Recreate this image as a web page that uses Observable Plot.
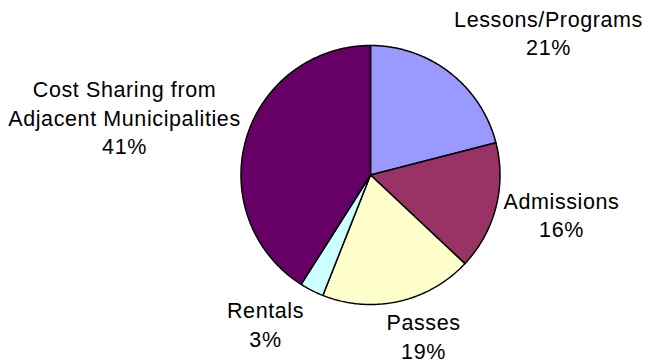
<!DOCTYPE html>
<html>
<head>
<meta charset="utf-8">
<script src="https://cdn.jsdelivr.net/npm/d3@7"></script>
<script src="https://cdn.jsdelivr.net/npm/@observablehq/plot@0.6"></script>
<style>
  html, body { margin: 0; padding: 0; background: #fff; }
  #chart svg { display: block; }
  #chart svg text { letter-spacing: 0.6px; }
</style>
</head>
<body>
<div id="chart"></div>
<script>
// Data
const categories = ["Lessons/Programs", "Admissions", "Passes", "Rentals", "Cost Sharing from\nAdjacent Municipalities"];
const shares = [21, 16, 19, 3, 41];
const percentLabels = ["21%", "16%", "19%", "3%", "41%"];

// Styles / layout (not data)
const colors = ["#9999FF", "#993366", "#FFFFCC", "#CCFFFF", "#660066"];
const W = 652, H = 364;
const cx = 370, cy = 174.5, R = 129.5;
const labelPos = [[548, 31.5], [561, 213.5], [423, 335], [265, 323], [124, 116]];

// Build slice polygons from shares (clockwise from 12 o'clock)
const total = d3.sum(shares);
let acc = 0;
const slices = categories.map((c, i) => {
  const a0 = acc / total * 2 * Math.PI;
  acc += shares[i];
  const a1 = acc / total * 2 * Math.PI;
  const pts = [{x: cx, y: cy}];
  const n = Math.max(2, Math.ceil((a1 - a0) / (Math.PI / 360)));
  for (let k = 0; k <= n; k++) {
    const a = a0 + (a1 - a0) * k / n;
    pts.push({x: cx + R * Math.sin(a), y: cy - R * Math.cos(a)});
  }
  pts.push({x: cx, y: cy});
  return {name: c, color: colors[i], pts};
});

const labels = categories.map((c, i) => ({
  text: c + "\n" + percentLabels[i], x: labelPos[i][0], y: labelPos[i][1]
}));

const chart = Plot.plot({
  width: W,
  height: H,
  margin: 0,
  x: {domain: [0, W], range: [0, W], axis: null},
  y: {domain: [0, H], range: [0, H], axis: null},
  style: {fontFamily: "'Liberation Sans', Arial, sans-serif", background: "#fff"},
  marks: [
    ...slices.map(s => Plot.line(s.pts, {
      x: "x", y: "y", fill: s.color, stroke: "#000", strokeWidth: 1.5,
      strokeLinejoin: "miter", curve: "linear"
    })),
    Plot.text(labels, {
      x: "x", y: "y", text: "text", fontSize: 21.5, lineHeight: 1.33,
      fill: "#000", textAnchor: "middle"
    })
  ]
});
document.getElementById("chart").appendChild(chart);
</script>
</body>
</html>
